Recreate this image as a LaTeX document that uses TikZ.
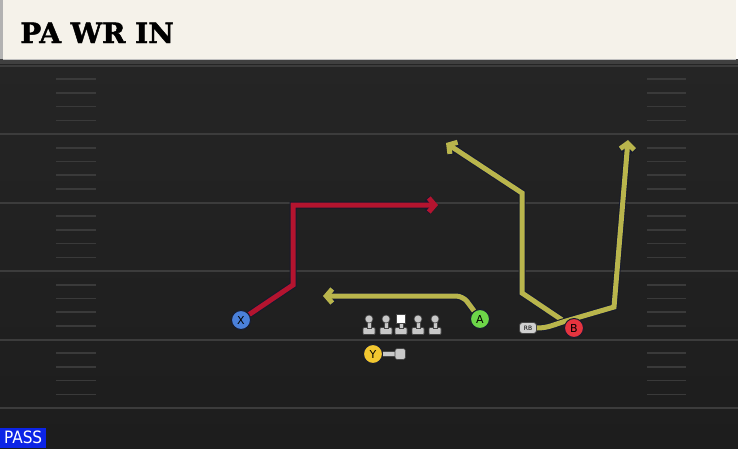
\documentclass[tikz,border=0pt]{standalone}
\usepackage{fontspec}
\usepackage{tikz}
\usetikzlibrary{arrows.meta,positioning,shapes}

\newfontfamily\titlefont{DejaVu Serif}[BoldFeatures={FakeBold=1.6}]
\newfontfamily\tagfont{DejaVu Sans Condensed}
\newfontfamily\letterfont{DejaVu Sans}

\definecolor{Field}{RGB}{37,37,37}
\definecolor{FieldLow}{RGB}{29,29,29}
\definecolor{Yard}{RGB}{60,60,60}
\definecolor{Hash}{RGB}{58,58,58}
\definecolor{Header}{RGB}{245,242,234}
\definecolor{RedRoute}{RGB}{180,20,47}
\definecolor{Olive}{RGB}{185,181,76}
\definecolor{Edge}{RGB}{22,26,46}
\definecolor{XBlue}{RGB}{74,128,218}
\definecolor{AGreen}{RGB}{109,214,73}
\definecolor{BRed}{RGB}{229,52,63}
\definecolor{YYellow}{RGB}{242,199,48}
\definecolor{OLGrey}{RGB}{200,200,200}
\definecolor{OLEdge}{RGB}{70,70,70}
\definecolor{PassBlue}{RGB}{12,36,230}

\pgfdeclarelayer{field}
\pgfdeclarelayer{routes}
\pgfsetlayers{field,routes,main}

\begin{document}
\begin{tikzpicture}[x=1pt,y=-1pt]
		\tikzstyle{Player}	= [circle, draw=Edge, line width=1pt, minimum size=19pt, inner sep=0pt, font=\letterfont\fontsize{11}{11}\selectfont]
		\tikzstyle{Route}	= [line width=5pt, -{Straight Barb[length=6pt,width=14pt]},
		                       preaction={draw=Edge, line width=7pt, -{Straight Barb[length=6pt,width=14pt]}}]
		\tikzstyle{YardLine}	= [draw=Yard, line width=2pt]
		\tikzstyle{HashMark}	= [draw=Hash, line width=1.6pt]
		\tikzstyle{OL}		= [fill=OLGrey, draw=OLEdge, line width=0.6pt]

		\useasboundingbox (0,0) rectangle (738,448);

		% field and header
		\begin{pgfonlayer}{field}
			\shade[top color=Field, bottom color=FieldLow] (0,59) rectangle (738,448);
			\fill[black!75] (0,59) rectangle (738,64);
			\foreach \n in {0,...,5}
				\draw[YardLine] (0,65.5+68.5*\n) -- (738,65.5+68.5*\n);
			\foreach \n in {0,...,4}
				\foreach \k in {1,...,4} {
					\draw[HashMark] (56,65.5+68.5*\n+13.7*\k) -- (96,65.5+68.5*\n+13.7*\k);
					\draw[HashMark] (647,65.5+68.5*\n+13.7*\k) -- (686,65.5+68.5*\n+13.7*\k);
				}
			\fill[gray!60] (0,0) rectangle (3,59);
			\fill[Header] (3,0) rectangle (736,59);
			\draw[gray!50, line width=1pt] (3,59) -- (736,59);
		\end{pgfonlayer}

		\node (title) at (20,43) [anchor=base west, inner sep=0pt, font=\titlefont\bfseries\fontsize{28}{28}\selectfont] {PA WR IN};
		\node (pass) at (0,448) [anchor=south west, fill=PassBlue, minimum width=46pt, minimum height=20pt, inner sep=0pt, text=white, font=\tagfont\fontsize{17}{17}\selectfont] {PASS};

		% players
		\node (X) at (241,320) [Player, fill=XBlue] {X};
		\node (A) at (480,319) [Player, fill=AGreen] {A};
		\node (B) at (574,328) [Player, fill=BRed] {B};
		\node (Y) at (373,354) [Player, fill=YYellow] {Y};
		\node (RB) at (528,328) [rounded corners=3pt, draw=OLEdge, fill=OLGrey!85, line width=0.8pt, minimum width=17pt, minimum height=11pt, inner sep=0pt, font=\letterfont\fontsize{6}{6}\selectfont] {RB};

		% offensive line
		\foreach \x in {369,386,418,435} {
			\filldraw[OL, rounded corners=1pt] (\x-6,327.5) rectangle (\x+6,334.5);
			\filldraw[OL] (\x-2.2,321) rectangle (\x+2.2,328);
			\filldraw[OL] (\x,319) circle (4);
		}
		\filldraw[OL, rounded corners=1pt] (401-6,327.5) rectangle (401+6,334.5);
		\filldraw[OL] (401-2.2,322) rectangle (401+2.2,328);
		\filldraw[fill=white, draw=OLEdge, line width=0.6pt] (396.5,314.5) rectangle (405.5,323);

		% Y motion
		\coordinate (Ymotion) at (397,354);
		\draw[OLEdge, line width=6pt] (Y) -- (Ymotion);
		\draw[OLGrey, line width=4.4pt] (Y) -- (Ymotion);
		\filldraw[OL, rounded corners=2.5pt] (395,348.5) rectangle (405.5,359.5);

		% routes
		\coordinate (Xend) at (438,205);
		\coordinate (Aend) at (323,296);
		\coordinate (Bend) at (446,143);
		\coordinate (RBend) at (628,140);
		\begin{pgfonlayer}{routes}
			\draw [Route, RedRoute] (X) -- (293,285) -- (293,205) -- (Xend);
			\draw [Route, Olive, rounded corners=7pt] (A) -- (463,296) -- (Aend);
			\draw [Route, Olive] (B) -- (522,293) -- (522,193) -- (Bend);
			\draw [Route, Olive] (RB.east) to[out=0, in=196] (566,321) -- (614,307) -- (RBend);
		\end{pgfonlayer}
	\end{tikzpicture}
\end{document}
